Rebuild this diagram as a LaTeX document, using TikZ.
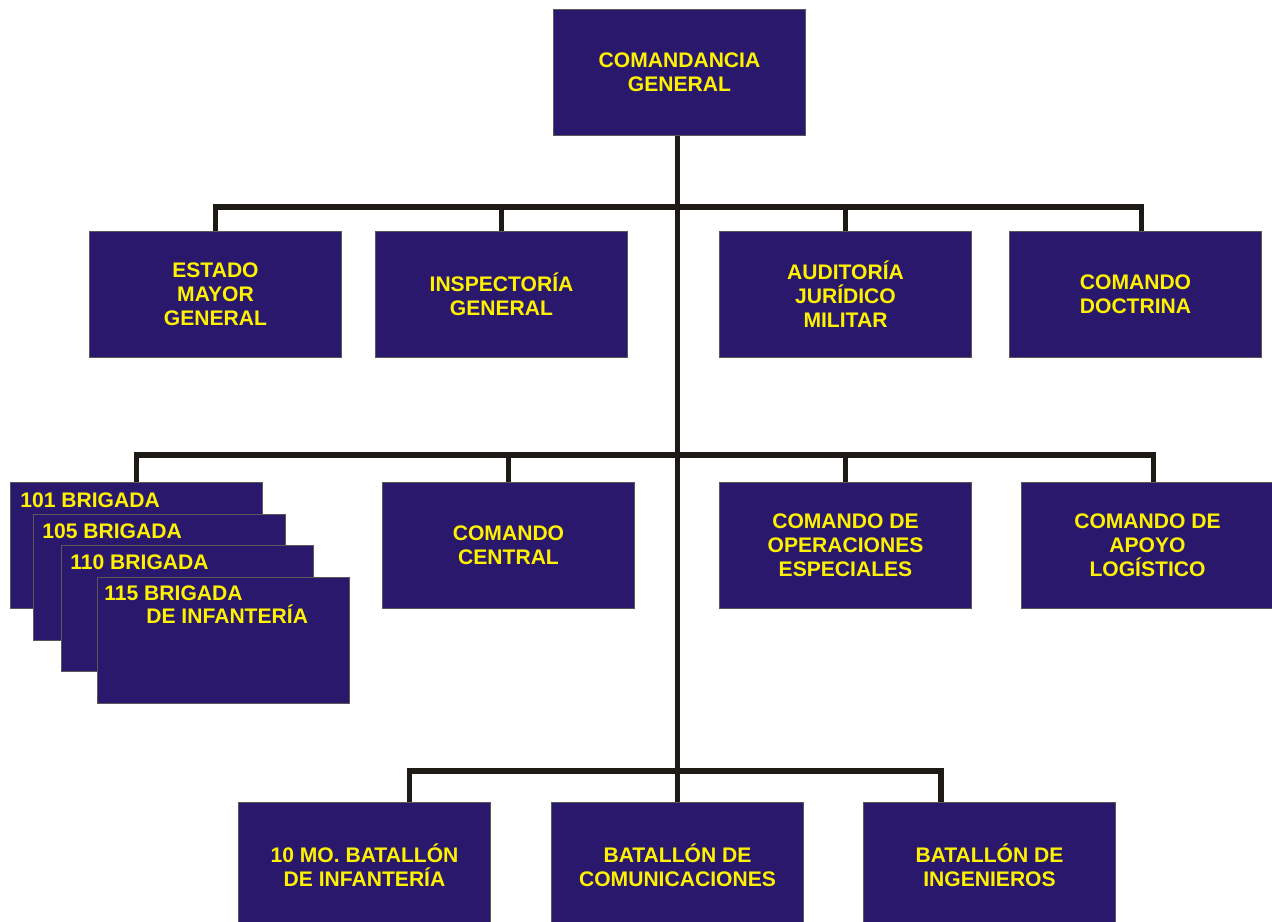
\documentclass[tikz,border=0pt]{standalone}
\usepackage{fontspec}
\setmainfont{Liberation Sans}
\usetikzlibrary{backgrounds}
\definecolor{unitblue}{RGB}{42,24,108}
\definecolor{unityellow}{RGB}{255,242,0}
\definecolor{linkdark}{RGB}{30,26,22}
\tikzset{
  unit/.style={draw=black!65,line width=0.6pt,fill=unitblue,text=unityellow,
    font=\fontsize{12}{13.6}\selectfont\bfseries,align=center,
    minimum width=5.04cm,minimum height=2.52cm,inner sep=0pt,anchor=north west},
  brigtxt/.style={text=unityellow,font=\fontsize{12}{13.6}\selectfont\bfseries,
    anchor=west,inner sep=0pt,align=left},
  link/.style={draw=linkdark,line width=3.4pt}
}
\begin{document}
\begin{tikzpicture}[x=0.02cm,y=-0.02cm]
\useasboundingbox (0,0) rectangle (1272,922);
%bus levels
\coordinate (r1) at (0,207);
\coordinate (r2) at (0,455);
\coordinate (r3) at (0,771);
%units
\path (553,9) node[unit] (cg) {COMANDANCIA\\GENERAL};
\path (89,231) node[unit] (emg) {ESTADO\\MAYOR\\GENERAL};
\path (375,231) node[unit] (ig) {INSPECTORÍA\\GENERAL};
\path (719,231) node[unit] (ajm) {AUDITORÍA\\JURÍDICO\\MILITAR};
\path (1009,231) node[unit] (cd) {COMANDO\\DOCTRINA};
\path (382,482) node[unit] (cc) {COMANDO\\CENTRAL};
\path (719,482) node[unit] (coe) {COMANDO DE\\OPERACIONES\\ESPECIALES};
\path (1021,482) node[unit] (cal) {COMANDO DE\\APOYO\\LOGÍSTICO};
\path (238,802) node[unit] (bi) {10 MO. BATALLÓN\\DE INFANTERÍA};
\path (551,802) node[unit] (bc) {BATALLÓN DE\\COMUNICACIONES};
\path (863,802) node[unit] (bing) {BATALLÓN DE\\INGENIEROS};
%brigades
\path (10,482) node[unit] (b101) {};
\path (33,514) node[unit] (b105) {};
\path (61,545) node[unit] (b110) {};
\path (97,577) node[unit] (b115) {};
\node[brigtxt] (t101) at ([shift={(10,18)}]b101.north west) {101 BRIGADA};
\node[brigtxt] (t105) at ([shift={(9,17)}]b105.north west) {105 BRIGADA};
\node[brigtxt] (t110) at ([shift={(9,17)}]b110.north west) {110 BRIGADA};
\node[brigtxt,anchor=north west] (t115) at ([shift={(7,8)}]b115.north west)
  {115 BRIGADA\\\hspace*{0.84cm}DE INFANTERÍA};
%drop points off centre
\coordinate (dcd) at ([xshift=0.12cm]cd.north);
\coordinate (dcal) at ([xshift=0.12cm]cal.north);
\coordinate (dbi) at ([xshift=0.9cm]bi.north);
\coordinate (dbing) at ([xshift=-0.98cm]bing.north);
%tree
\begin{scope}[on background layer]
\draw[link] (bc.north |- cg.south) -- (bc.north);
\draw[link] (emg.north) -- (emg.north |- r1) -- (dcd |- r1) -- (dcd);
\draw[link] (ig.north) -- (ig.north |- r1);
\draw[link] (ajm.north) -- (ajm.north |- r1);
\draw[link] (b101.north) -- (b101.north |- r2) -- (dcal |- r2) -- (dcal);
\draw[link] (cc.north) -- (cc.north |- r2);
\draw[link] (coe.north) -- (coe.north |- r2);
\draw[link] (dbi) -- (dbi |- r3) -- (dbing |- r3) -- (dbing);
\end{scope}
\end{tikzpicture}
\end{document}
